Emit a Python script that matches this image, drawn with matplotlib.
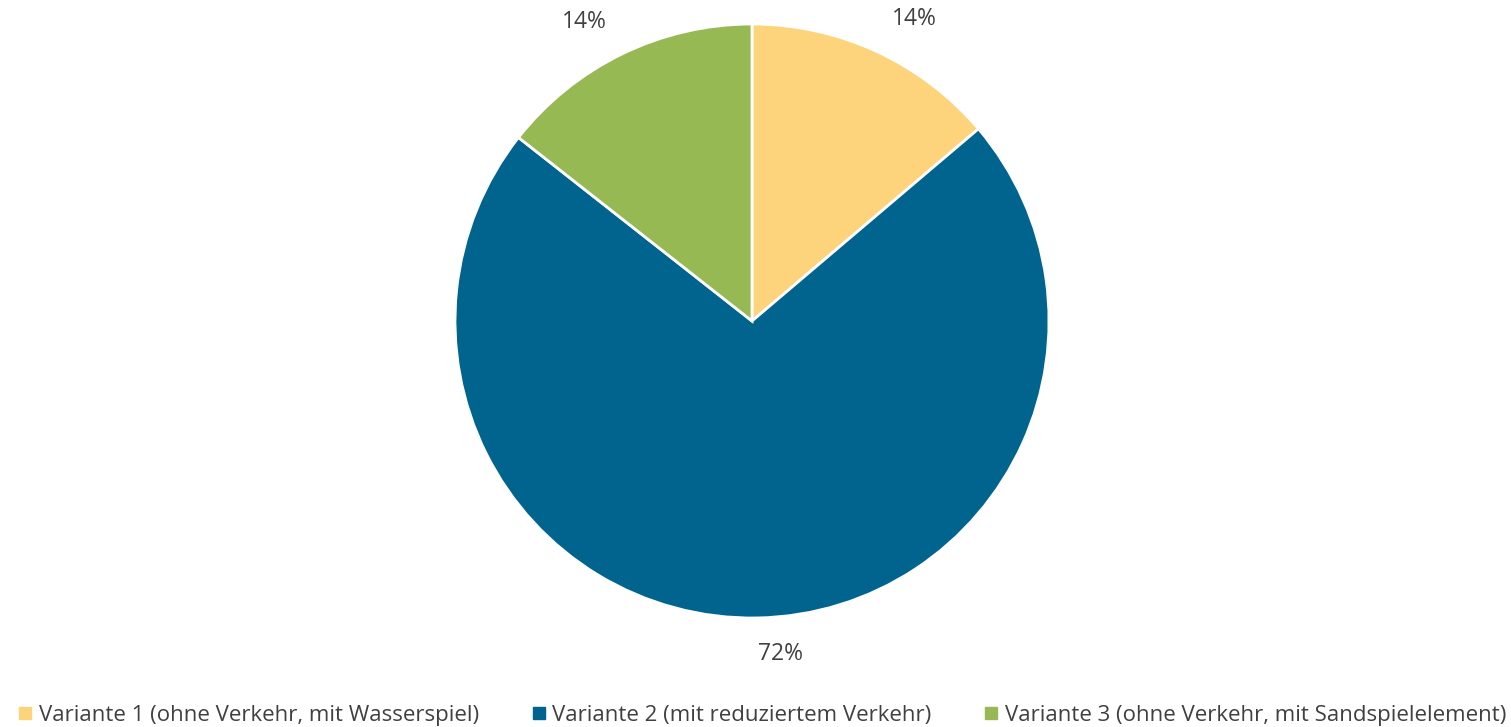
import matplotlib.pyplot as plt
from matplotlib.lines import Line2D

plt.rcParams['font.family'] = ['Open Sans', 'DejaVu Sans']

categories = ['Variante 1 (ohne Verkehr, mit Wasserspiel)',
              'Variante 2 (mit reduziertem Verkehr)',
              'Variante 3 (ohne Verkehr, mit Sandspielelement)']
values = [13.8, 71.8, 14.4]
pct_labels = ['14%', '72%', '14%']
colors = ['#FDD37C', '#00648F', '#97B954']

W, H = 1511, 727
fig = plt.figure(figsize=(W / 100, H / 100), dpi=100)
cx, cy, r = 752, 321, 297
ax = fig.add_axes([(cx - r) / W, (H - cy - r) / H, 2 * r / W, 2 * r / H])

ax.pie(values, colors=colors, startangle=90, counterclock=False,
       labels=pct_labels, labeldistance=1.12, radius=1,
       wedgeprops=dict(edgecolor='white', linewidth=2),
       textprops=dict(fontsize=16.5, color='#404040'))
ax.set_xlim(-1, 1)
ax.set_ylim(-1, 1)
ax.set_aspect('equal')

handles = [Line2D([], [], marker='s', linestyle='none', markersize=9,
                  markerfacecolor=c, markeredgecolor=c) for c in colors]
fig.legend(handles, categories, loc='lower center', ncol=3, frameon=False,
           fontsize=16, bbox_to_anchor=(0.503, -0.026), handletextpad=0.1,
           columnspacing=2.2, labelcolor='#404040', handlelength=1.0)

fig.savefig('out.png', dpi=100)
